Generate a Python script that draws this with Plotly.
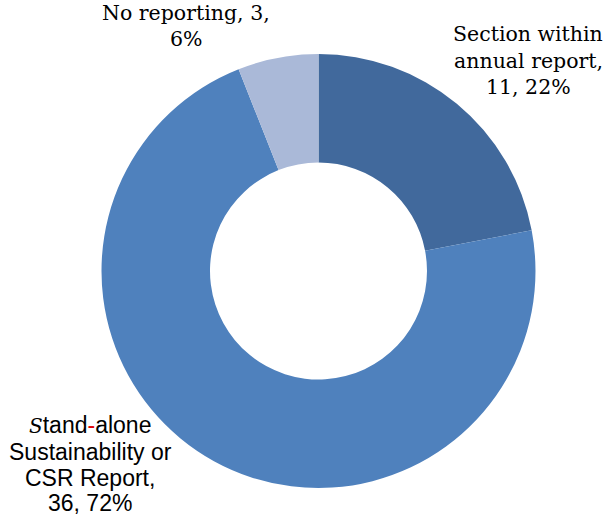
import plotly.graph_objects as go

# Reporting format of companies
categories = ["Section within annual report", "Stand-alone Sustainability or CSR Report", "No reporting"]
counts = [11, 36, 3]
percents = [22, 72, 6]
colors = ["#41699C", "#4F81BD", "#AAB9D8"]

W, H = 606, 522

fig = go.Figure(go.Pie(
    labels=categories,
    values=counts,
    sort=False,
    direction="clockwise",
    rotation=0,
    hole=0.5,
    marker=dict(colors=colors, line=dict(width=0)),
    textinfo="none",
    hoverinfo="label+value+percent",
    domain=dict(x=[101 / W, 536 / W], y=[1 - 488 / H, 1 - 54 / H]),
    showlegend=False,
))

serif = "DejaVu Serif"
sans = "Liberation Sans"


def add_lines(lines, cx, cy_list, family, size):
    for text, cy in zip(lines, cy_list):
        fig.add_annotation(
            x=cx / W, y=1 - cy / H, xref="paper", yref="paper",
            text=text, showarrow=False, xanchor="center", yanchor="middle",
            font=dict(family=family, size=size, color="#000000"),
        )


add_lines(
    ["Section within", "annual report,", f"{counts[0]}, {percents[0]}%"],
    528, [34, 61, 87], serif, 20.5,
)
add_lines(
    [
        "<span style=\"font-family:'DejaVu Serif';font-style:italic;font-size:20px\">S</span>tand"
        '<span style="color:#E00000">-</span>alone',
        "Sustainability or",
        "CSR Report,",
        f"{counts[1]}, {percents[1]}%",
    ],
    90, [425, 452, 478, 503], sans, 23,
)
add_lines(
    [f"No reporting, {counts[2]},", f"{percents[2]}%"],
    186, [13, 39], serif, 20.5,
)

fig.update_layout(
    width=W, height=H,
    margin=dict(l=0, r=0, t=0, b=0),
    paper_bgcolor="white", plot_bgcolor="white",
)

fig.write_html("out.html")
